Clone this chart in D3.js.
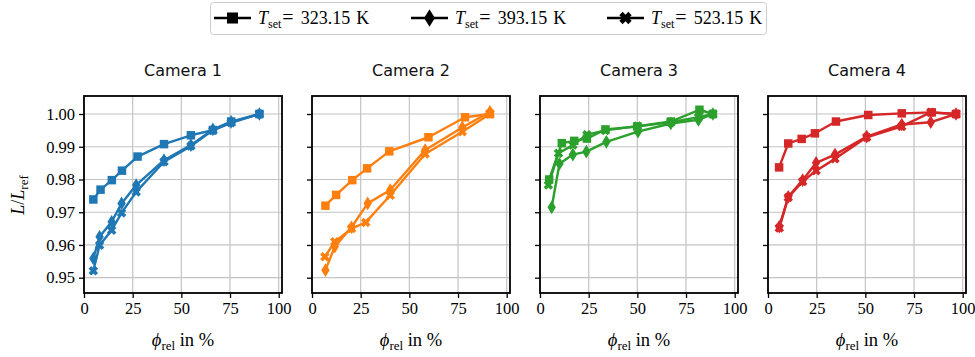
<!DOCTYPE html>
<html>
<head>
<meta charset="utf-8">
<script src="https://cdn.jsdelivr.net/npm/d3@7"></script>
<style>
  html, body { margin: 0; padding: 0; background: #fff; }
  svg { display: block; }
  .serif { font-family: "Liberation Serif", "DejaVu Serif", serif; }
  .sans { font-family: "DejaVu Sans", "Noto Sans", sans-serif; }
</style>
</head>
<body>
<svg id="chart" width="975" height="357"></svg>
<script>
// Camera titles, colours and set temperatures
const cameras = ["Camera 1", "Camera 2", "Camera 3", "Camera 4"];
const cameraColors = ["#1f77b4", "#ff7f0e", "#2ca02c", "#d62728"];
const setTemps = ["323.15", "393.15", "523.15"];
const markerKinds = ["square", "diamond", "xcross"];

// Axis ticks
const xTicks = [0, 25, 50, 75, 100];
const yTicks = [0.95, 0.96, 0.97, 0.98, 0.99, 1.00];

// Camera 1: relative fill level (%) and normalised length
const cam1_phi_323 = [4.8, 8.5, 14.3, 19.5, 27.5, 41.1, 54.9, 66.2, 75.6, 90.1];
const cam1_L_323   = [0.9739, 0.9769, 0.9798, 0.9827, 0.9870, 0.9908, 0.9935, 0.9951, 0.9977, 1.0000];
const cam1_phi_393 = [4.8, 8.0, 14.2, 19.3, 26.8, 41.1, 54.9, 66.2, 75.6, 90.1];
const cam1_L_393   = [0.9559, 0.9625, 0.9671, 0.9727, 0.9783, 0.9859, 0.9905, 0.9953, 0.9976, 1.0000];
const cam1_phi_523 = [4.8, 8.0, 14.2, 19.3, 26.8, 41.1, 54.9, 66.2, 75.6, 90.1];
const cam1_L_523   = [0.9521, 0.9599, 0.9645, 0.9698, 0.9762, 0.9854, 0.9902, 0.9950, 0.9973, 1.0000];

// Camera 2
const cam2_phi_323 = [6.9, 12.4, 20.7, 28.3, 39.7, 59.8, 78.6, 91.4];
const cam2_L_323   = [0.9720, 0.9753, 0.9798, 0.9834, 0.9886, 0.9929, 0.9990, 1.0000];
const cam2_phi_393 = [6.9, 11.7, 20.3, 28.6, 40.2, 58.1, 77.2, 91.4];
const cam2_L_393   = [0.9523, 0.9595, 0.9654, 0.9727, 0.9768, 0.9890, 0.9959, 1.0007];
const cam2_phi_523 = [6.6, 11.7, 20.3, 27.6, 40.2, 58.1, 77.2, 91.4];
const cam2_L_523   = [0.9564, 0.9610, 0.9650, 0.9669, 0.9752, 0.9878, 0.9946, 1.0000];

// Camera 3
const cam3_phi_323 = [4.7, 11.2, 17.6, 24.1, 33.6, 50.0, 67.2, 81.9, 88.8];
const cam3_L_323   = [0.9800, 0.9911, 0.9918, 0.9925, 0.9953, 0.9962, 0.9977, 1.0013, 1.0000];
const cam3_phi_393 = [6.0, 10.0, 16.9, 23.8, 34.1, 50.3, 67.2, 81.4, 88.8];
const cam3_L_393   = [0.9715, 0.9848, 0.9876, 0.9885, 0.9915, 0.9946, 0.9971, 0.9982, 1.0000];
const cam3_phi_523 = [4.3, 9.5, 16.9, 24.1, 33.6, 50.0, 67.2, 81.4, 88.8];
const cam3_L_523   = [0.9783, 0.9880, 0.9905, 0.9937, 0.9950, 0.9963, 0.9975, 0.9990, 1.0000];

// Camera 4
const cam4_phi_323 = [5.7, 10.4, 17.3, 24.1, 34.9, 51.5, 68.7, 84.1, 96.6];
const cam4_L_323   = [0.9837, 0.9910, 0.9924, 0.9941, 0.9977, 0.9997, 1.0002, 1.0005, 1.0000];
const cam4_phi_393 = [5.8, 10.4, 17.8, 24.7, 34.4, 50.7, 68.7, 83.6, 96.6];
const cam4_L_393   = [0.9656, 0.9747, 0.9798, 0.9851, 0.9876, 0.9931, 0.9968, 0.9975, 1.0000];
const cam4_phi_523 = [5.8, 10.4, 17.8, 24.7, 34.4, 50.7, 68.7, 83.6, 96.6];
const cam4_L_523   = [0.9652, 0.9745, 0.9794, 0.9827, 0.9863, 0.9929, 0.9962, 1.0005, 1.0000];

const seriesByCamera = [
  [[cam1_phi_323, cam1_L_323], [cam1_phi_393, cam1_L_393], [cam1_phi_523, cam1_L_523]],
  [[cam2_phi_323, cam2_L_323], [cam2_phi_393, cam2_L_393], [cam2_phi_523, cam2_L_523]],
  [[cam3_phi_323, cam3_L_323], [cam3_phi_393, cam3_L_393], [cam3_phi_523, cam3_L_523]],
  [[cam4_phi_323, cam4_L_323], [cam4_phi_393, cam4_L_393], [cam4_phi_523, cam4_L_523]]
];

// Layout
const panelLefts = [84, 312, 540, 768];
const panelWidth = 198;
const panelTop = 96, panelBottom = 293;

const svg = d3.select("#chart");

// Marker shapes
function markerPath(kind, s) {
  if (kind === "square") {
    const h = s / 2;
    return `M${-h},${-h}H${h}V${h}H${-h}Z`;
  }
  if (kind === "diamond") {
    const w = s * 0.38, h = s * 0.62;
    return `M0,${-h}L${w},0L0,${h}L${-w},0Z`;
  }
  // filled X
  const a = s * 0.5, t = s * 0.27;
  return `M${-a},${-a + t}L${-a + t},${-a}L0,${-t}L${a - t},${-a}L${a},${-a + t}L${t},0L${a},${a - t}L${a - t},${a}L0,${t}L${-a + t},${a}L${-a},${a - t}L${-t},0Z`;
}
const markerSizes = { square: 8.5, diamond: 11, xcross: 9.5 };

const y = d3.scaleLinear().domain([0.94533, 1.0055]).range([panelBottom, panelTop]);

cameras.forEach((title, ci) => {
  const left = panelLefts[ci];
  const x = d3.scaleLinear().domain([0, 101.7]).range([left, left + panelWidth]);
  const g = svg.append("g");
  const color = cameraColors[ci];

  // grid
  g.append("g").selectAll("line").data(xTicks).join("line")
    .attr("x1", d => x(d)).attr("x2", d => x(d))
    .attr("y1", panelTop).attr("y2", panelBottom)
    .attr("stroke", "#c4c4c4").attr("stroke-width", 1.2);
  g.append("g").selectAll("line").data(yTicks).join("line")
    .attr("x1", left).attr("x2", left + panelWidth)
    .attr("y1", d => y(d)).attr("y2", d => y(d))
    .attr("stroke", "#c4c4c4").attr("stroke-width", 1.2);

  // series
  const line = d3.line().x(d => x(d[0])).y(d => y(d[1]));
  seriesByCamera[ci].forEach((pair, si) => {
    const pts = pair[0].map((v, i) => [v, pair[1][i]]);
    const kind = markerKinds[si];
    g.append("path").datum(pts)
      .attr("d", line).attr("fill", "none")
      .attr("stroke", color).attr("stroke-width", 2.4)
      .attr("stroke-linejoin", "round");
    g.append("g").selectAll("path").data(pts).join("path")
      .attr("transform", d => `translate(${x(d[0])},${y(d[1])})`)
      .attr("d", markerPath(kind, markerSizes[kind]))
      .attr("fill", color);
  });

  // axes
  const xAxis = d3.axisBottom(x).tickValues(xTicks).tickSize(5).tickPadding(4)
    .tickFormat(d3.format("d"));
  const gx = g.append("g").attr("transform", `translate(0,${panelBottom})`).call(xAxis);
  gx.select(".domain").remove();
  gx.selectAll(".tick line").attr("stroke", "#000").attr("stroke-width", 1.3);
  gx.selectAll(".tick text").attr("font-size", 16.5).attr("fill", "#000")
    .attr("font-family", "Liberation Serif, DejaVu Serif, serif");

  const yAxis = d3.axisLeft(y).tickValues(yTicks).tickSize(5).tickPadding(4)
    .tickFormat(ci === 0 ? d3.format(".2f") : () => "");
  const gy = g.append("g").attr("transform", `translate(${left},0)`).call(yAxis);
  gy.select(".domain").remove();
  gy.selectAll(".tick line").attr("stroke", "#000").attr("stroke-width", 1.3);
  gy.selectAll(".tick text").attr("font-size", 16.5).attr("fill", "#000")
    .attr("font-family", "Liberation Serif, DejaVu Serif, serif");

  // frame
  g.append("rect").attr("x", left).attr("y", panelTop)
    .attr("width", panelWidth).attr("height", panelBottom - panelTop)
    .attr("fill", "none").attr("stroke", "#000").attr("stroke-width", 1.8);

  // title
  g.append("text").attr("class", "sans")
    .attr("x", left + panelWidth / 2).attr("y", 76)
    .attr("text-anchor", "middle").attr("font-size", 16).attr("fill", "#111")
    .text(title);

  // x label
  const xl = g.append("text").attr("class", "serif")
    .attr("x", left + panelWidth / 2).attr("y", 346)
    .attr("text-anchor", "middle").attr("font-size", 18.5).attr("fill", "#000");
  xl.append("tspan").attr("font-style", "italic").text("ϕ");
  xl.append("tspan").attr("font-size", 13).attr("dy", 3.5).text("rel");
  xl.append("tspan").attr("dy", -3.5).text(" in %");
});

// y label
const yl = svg.append("text").attr("class", "serif")
  .attr("transform", "translate(24,195) rotate(-90)")
  .attr("text-anchor", "middle").attr("font-size", 18).attr("fill", "#000");
yl.append("tspan").attr("font-style", "italic").text("L");
yl.append("tspan").text("/");
yl.append("tspan").attr("font-style", "italic").text("L");
yl.append("tspan").attr("font-size", 13).attr("dy", 3.5).text("ref");

// legend
const legend = svg.append("g");
legend.append("rect").attr("x", 210.5).attr("y", 2.5).attr("width", 556).attr("height", 32)
  .attr("rx", 3).attr("fill", "#fff").attr("stroke", "#cccccc").attr("stroke-width", 1);
const legendStarts = [214, 411, 607];
setTemps.forEach((t, i) => {
  const x0 = legendStarts[i];
  const kind = markerKinds[i];
  legend.append("line").attr("x1", x0).attr("x2", x0 + 37).attr("y1", 18).attr("y2", 18)
    .attr("stroke", "#000").attr("stroke-width", 2.6);
  legend.append("path").attr("transform", `translate(${x0 + 18.5},18)`)
    .attr("d", markerPath(kind, markerSizes[kind] * 1.3)).attr("fill", "#000");
  const tx = legend.append("text").attr("class", "serif")
    .attr("x", x0 + 44).attr("y", 24).attr("font-size", 18).attr("fill", "#000");
  tx.append("tspan").attr("font-style", "italic").text("T");
  tx.append("tspan").attr("font-size", 12).attr("dy", 3.5).text("set");
  tx.append("tspan").attr("dy", -3.5).attr("dx", 1).attr("font-size", 20).text("=");
  tx.append("tspan").attr("dx", 7).text(t);
  tx.append("tspan").attr("dx", 6).text("K");
});
</script>
</body>
</html>
